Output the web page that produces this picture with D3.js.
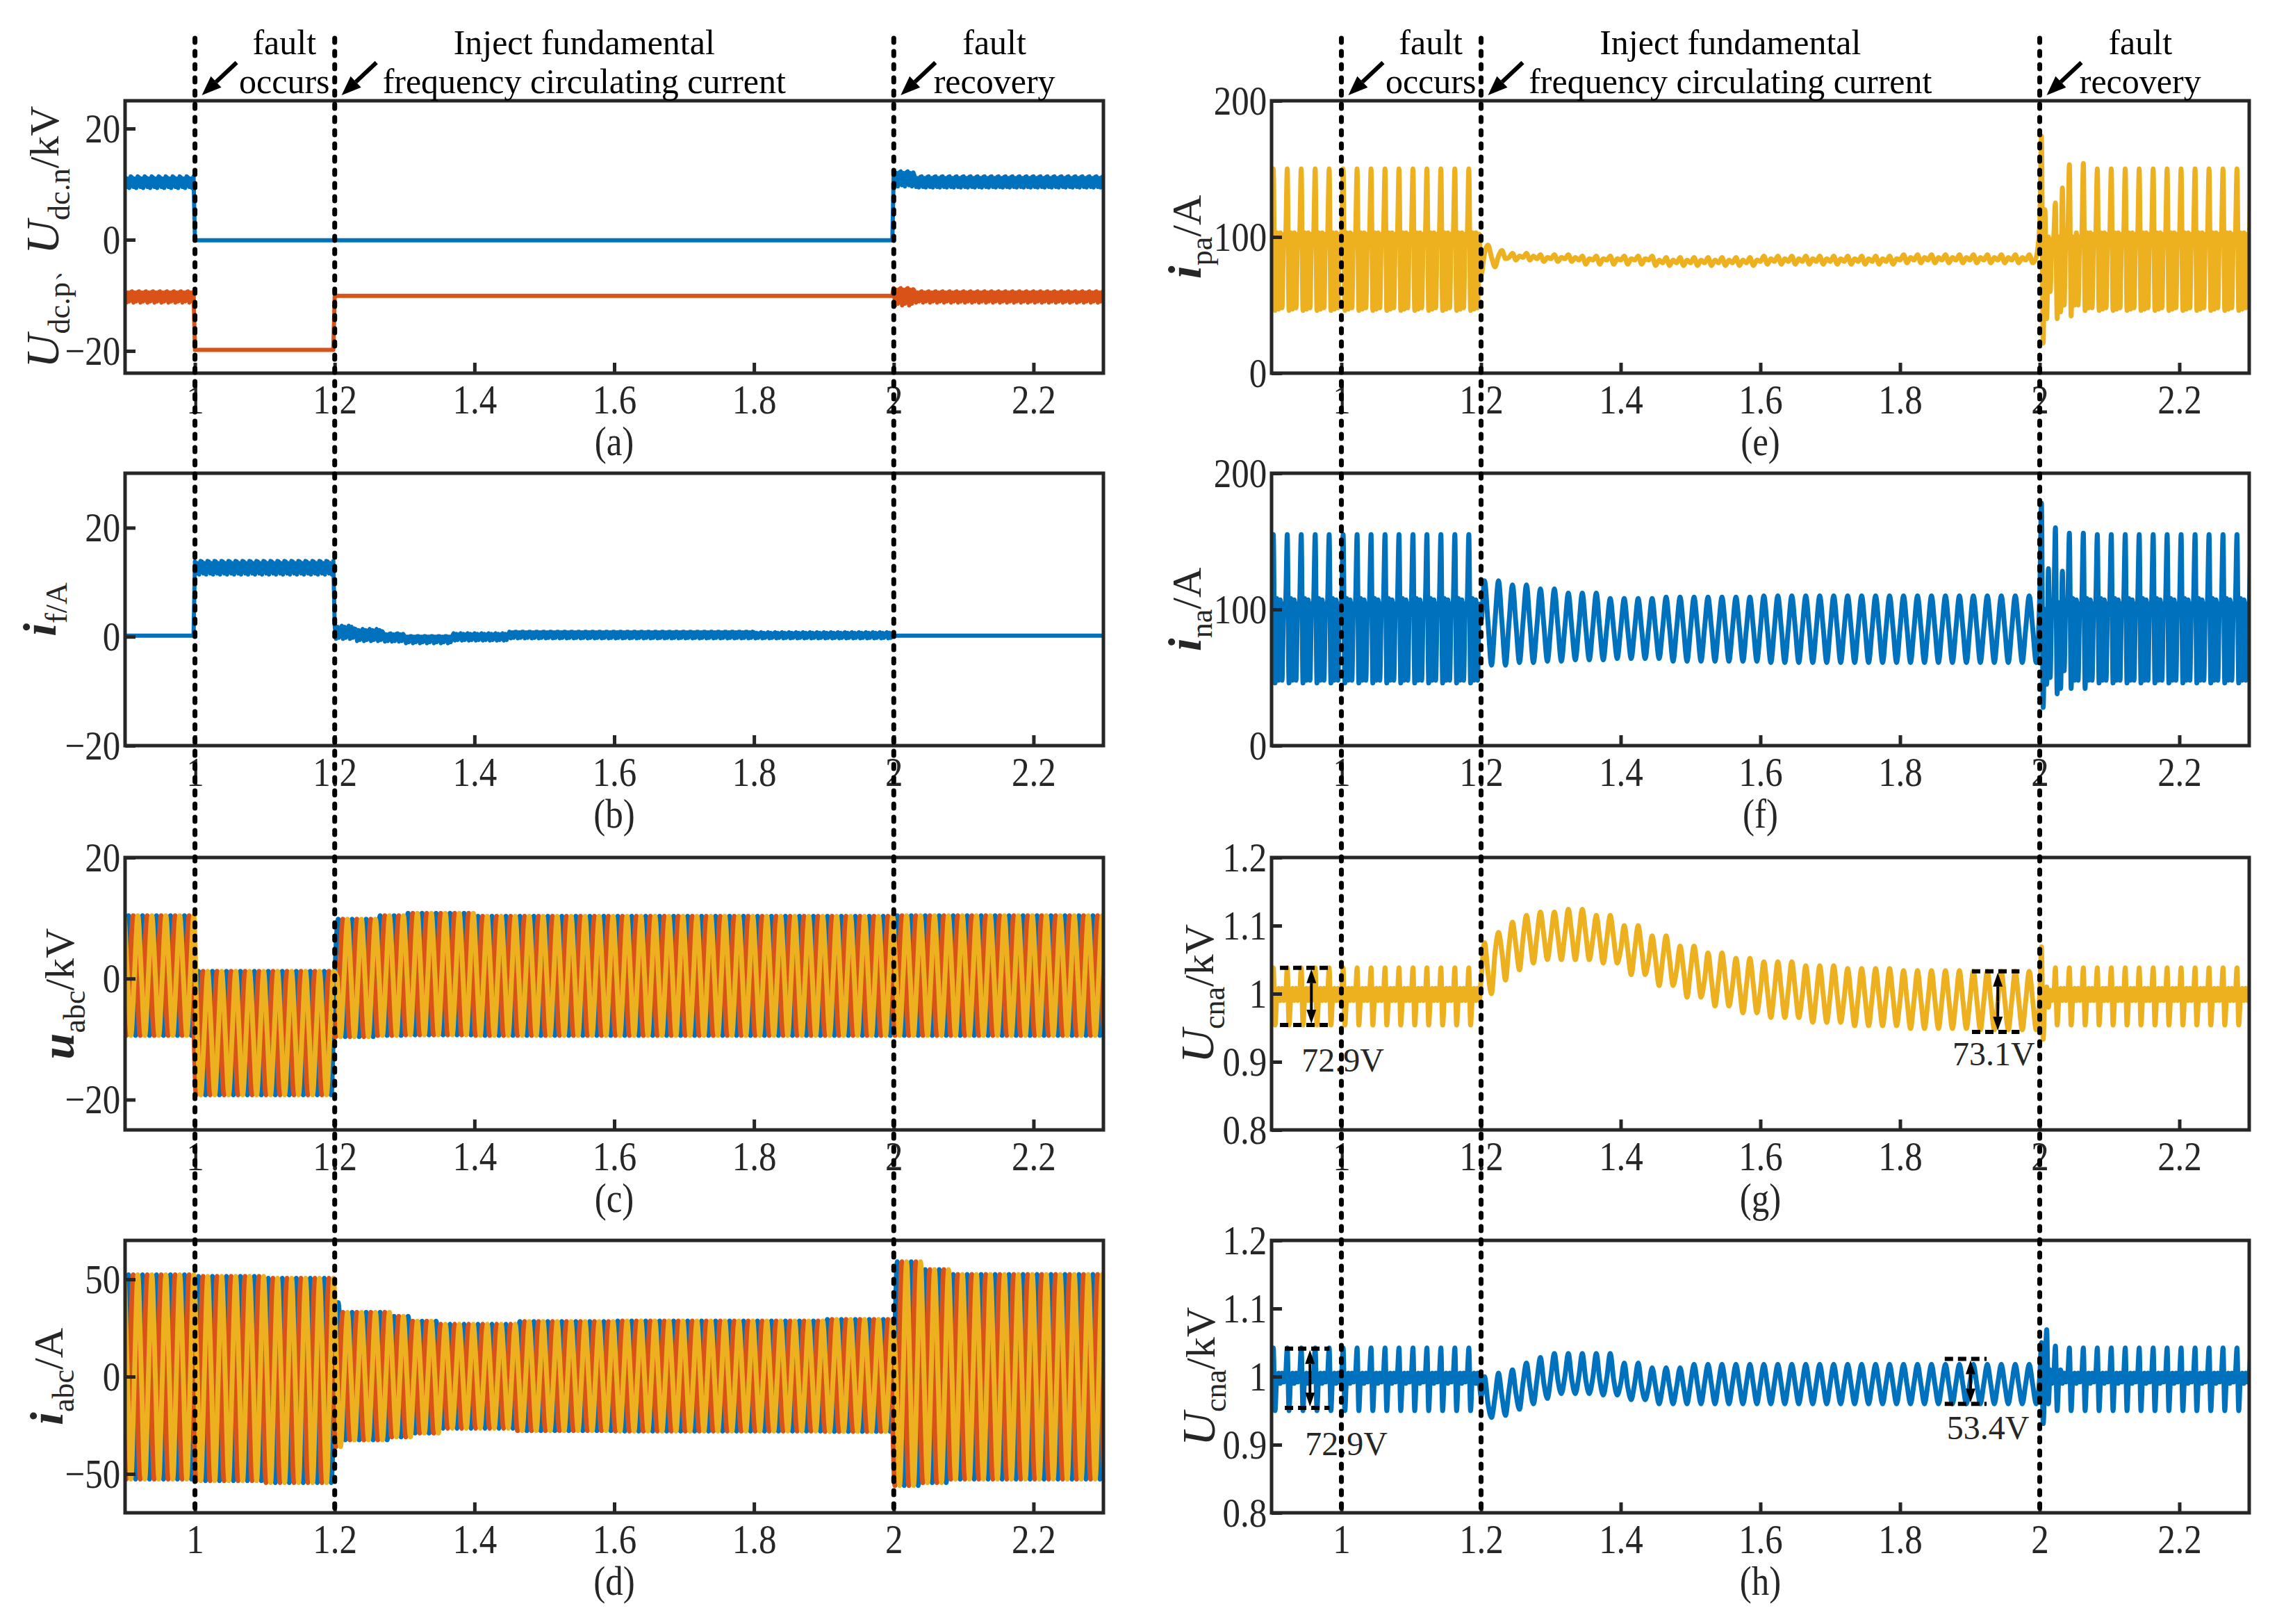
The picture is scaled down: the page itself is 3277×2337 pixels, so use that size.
<!DOCTYPE html>
<html>
<head>
<meta charset="utf-8">
<script src="https://cdn.jsdelivr.net/npm/d3@7"></script>
<style>
  body { margin: 0; background: #fff; }
</style>
</head>
<body>
<svg id="fig"></svg>
<script>
// ---------------- data ----------------
const T_DOMAIN = [0.9, 2.3];
const EVENT_TIMES = [1.0, 1.2, 2.0];
const X_TICKS = [1, 1.2, 1.4, 1.6, 1.8, 2, 2.2];
const X_TICK_LABELS = ["1", "1.2", "1.4", "1.6", "1.8", "2", "2.2"];
const PANEL_LETTERS = ["(a)", "(b)", "(c)", "(d)", "(e)", "(f)", "(g)", "(h)"];

const MAINS_PERIOD = 0.02;   // 50 Hz
const NOISE_PERIOD = 0.01;   // texture of the dc traces
const PHASE_SHIFTS = [0, 1 / 3, 2 / 3];

// each row: [time from which it holds, samples of one cycle]
const udcNRows = [
  [0.9, [11.2, 9.5, 11.0, 9.3, 11.4]],
  [1.0, [-0.1, -0.1, -0.1, -0.1, -0.1]],
  [2.0, [12.3, 9.8, 12.0, 9.6, 12.1]],
  [2.03, [11.4, 9.5, 11.1, 9.4, 11.3]]
];
const udcPRows = [
  [0.9, [-9.3, -11.3, -9.5, -11.1, -9.4]],
  [1.0, [-19.8, -19.8, -19.8, -19.8, -19.8]],
  [1.2, [-10.1, -10.1, -10.1, -10.1, -10.1]],
  [2.0, [-8.7, -11.8, -9.0, -11.5, -8.9]],
  [2.03, [-9.3, -11.3, -9.5, -11.1, -9.4]]
];
const ifRows = [
  [0.9, [0.2, 0.2, 0.2, 0.2, 0.2]],
  [1.0, [13.8, 11.6, 13.5, 11.4, 13.9]],
  [1.2, [2.0, -0.4, 1.8, -0.2, 1.5]],
  [1.23, [1.4, -0.8, 1.2, -0.6, 1.0]],
  [1.27, [0.6, -0.9, 0.4, -0.8, 0.5]],
  [1.3, [0.1, -1.2, 0.0, -1.0, 0.1]],
  [1.37, [0.6, -0.7, 0.5, -0.6, 0.4]],
  [1.45, [0.9, -0.3, 0.8, -0.2, 0.9]],
  [1.8, [0.8, -0.3, 0.7, -0.2, 0.6]],
  [2.0, [0.2, 0.2, 0.2, 0.2, 0.2]]
];
const uabcRows = [
  [0.9, [0.5, 10.4, 0.5, -9.4]],
  [1.0, [-9.0, 1.2, -9.0, -19.2]],
  [1.2, [0.2, 9.8, 0.2, -9.6]],
  [1.26, [0.6, 10.4, 0.6, -9.4]],
  [1.3, [0.8, 10.8, 0.8, -9.3]],
  [1.4, [0.5, 10.3, 0.5, -9.4]],
  [2.0, [0.5, 10.4, 0.5, -9.4]]
];
const iabcRows = [
  [0.9, [0, 52.3, 0, -52.7]],
  [1.0, [0, 51.5, 0, -53.5]],
  [1.1, [0, 50.5, 0, -54.5]],
  [1.2, [0, 38, 0, -36]],
  [1.21, [0, 33, 0, -32.5]],
  [1.28, [0, 31, 0, -31]],
  [1.31, [0, 28.5, 0, -29]],
  [1.35, [0, 27, 0, -26.6]],
  [1.46, [0, 28.3, 0, -27.8]],
  [1.6, [0, 28.6, 0, -28]],
  [1.9, [0, 29.4, 0, -28.2]],
  [2.0, [0, 59, 0, -56]],
  [2.04, [0, 55, 0, -54.5]],
  [2.08, [0, 52.5, 0, -52.7]]
];
const ipaRows = [
  [0.9, [100, 150, 46, 103, 47, 103, 48, 102]],
  [1.2, [72, 88, 94, 85]],
  [1.22, [78, 86, 90, 84]],
  [1.24, [85, 88, 83, 86]],
  [1.28, [84, 87, 82, 85]],
  [1.34, [83, 86, 80, 84]],
  [1.45, [81, 85, 79, 83]],
  [1.6, [82, 86, 80, 84]],
  [1.8, [83, 87, 81, 85]],
  [2.0, [110, 174, 22, 120, 40, 100, 60, 95]],
  [2.02, [100, 125, 40, 100, 45, 136, 50, 100]],
  [2.04, [100, 153, 42, 100, 50, 103, 50, 100]],
  [2.06, [100, 154, 46, 103, 48, 103, 48, 102]],
  [2.08, [100, 150, 46, 103, 47, 103, 48, 102]]
];
const inaRows = [
  [0.9, [105, 155, 46, 108, 48, 107, 48, 104]],
  [1.2, [92, 121, 90, 59]],
  [1.24, [90, 118, 89, 61]],
  [1.28, [88, 115, 88, 62]],
  [1.32, [87, 112, 86, 63]],
  [1.38, [86, 108, 85, 64]],
  [1.46, [86, 109, 86, 62]],
  [1.6, [86, 110, 86, 61]],
  [2.0, [110, 178, 28, 100, 45, 130, 50, 104]],
  [2.02, [105, 160, 38, 105, 42, 128, 55, 104]],
  [2.04, [105, 156, 42, 108, 48, 107, 48, 104]],
  [2.08, [105, 155, 46, 108, 48, 107, 48, 104]]
];
const ucnaGRows = [
  [0.9, [0.995, 1.038, 0.954, 0.995, 1.008, 0.99, 1.008, 0.99]],
  [1.2, [1.02, 1.075, 1.03, 1.0]],
  [1.22, [1.06, 1.09, 1.06, 1.02]],
  [1.24, [1.07, 1.105, 1.07, 1.035]],
  [1.26, [1.08, 1.115, 1.08, 1.045]],
  [1.28, [1.085, 1.12, 1.085, 1.05]],
  [1.32, [1.087, 1.124, 1.087, 1.05]],
  [1.36, [1.08, 1.115, 1.08, 1.045]],
  [1.4, [1.065, 1.1, 1.065, 1.028]],
  [1.44, [1.05, 1.085, 1.05, 1.012]],
  [1.48, [1.035, 1.07, 1.035, 0.995]],
  [1.52, [1.02, 1.06, 1.02, 0.982]],
  [1.56, [1.012, 1.052, 1.012, 0.972]],
  [1.6, [1.005, 1.047, 1.005, 0.965]],
  [1.66, [0.998, 1.041, 0.998, 0.958]],
  [1.72, [0.994, 1.037, 0.994, 0.953]],
  [1.8, [0.99, 1.034, 0.99, 0.949]],
  [1.9, [0.99, 1.033, 0.99, 0.947]],
  [2.0, [1.0, 1.069, 0.933, 1.0, 1.01, 0.98, 1.005, 0.99]],
  [2.02, [0.995, 1.038, 0.954, 0.995, 1.008, 0.99, 1.008, 0.99]]
];
const ucnaHRows = [
  [0.9, [1.0, 1.042, 0.95, 1.0, 1.005, 0.99, 1.005, 0.992]],
  [1.2, [0.97, 1.0, 0.96, 0.94]],
  [1.22, [0.97, 1.005, 0.97, 0.943]],
  [1.24, [0.98, 1.01, 0.975, 0.952]],
  [1.26, [0.99, 1.02, 0.985, 0.96]],
  [1.28, [0.995, 1.028, 0.99, 0.968]],
  [1.3, [1.0, 1.034, 0.995, 0.975]],
  [1.36, [0.998, 1.034, 0.995, 0.973]],
  [1.4, [0.99, 1.02, 0.985, 0.966]],
  [1.44, [0.985, 1.013, 0.985, 0.96]],
  [1.5, [0.99, 1.018, 0.988, 0.96]],
  [2.0, [1.0, 1.05, 0.931, 1.0, 1.069, 0.96, 1.01, 0.99]],
  [2.02, [1.0, 1.045, 0.95, 1.0, 1.01, 0.99, 1.005, 0.992]],
  [2.04, [1.0, 1.042, 0.95, 1.0, 1.005, 0.99, 1.005, 0.992]]
];

// y axes
const Y_DOMAINS = [[-24, 25], [-20, 30], [-25, 20], [-70, 70], [0, 200], [0, 200], [0.8, 1.2], [0.8, 1.2]];
const Y_TICKS = [[-20, 0, 20], [-20, 0, 20], [-20, 0, 20], [-50, 0, 50], [0, 100, 200], [0, 100, 200],
  [0.8, 0.9, 1, 1.1, 1.2], [0.8, 0.9, 1, 1.1, 1.2]];
const Y_TICK_LABELS = [["\u221220", "0", "20"], ["\u221220", "0", "20"], ["\u221220", "0", "20"], ["\u221250", "0", "50"],
  ["0", "100", "200"], ["0", "100", "200"], ["0.8", "0.9", "1", "1.1", "1.2"], ["0.8", "0.9", "1", "1.1", "1.2"]];
const Y_LABELS = [
  [["U", "main"], ["dc.p", "sub"], ["\u3001", "sep"], ["U", "main"], ["dc.n", "sub"], ["/kV", "unit"]],
  [["i", "mainb"], ["f/A", "sub"]],
  [["u", "mainb"], ["abc", "sub"], ["/kV", "unit"]],
  [["i", "mainb"], ["abc", "sub"], ["/A", "unit"]],
  [["i", "mainb"], ["pa", "sub"], ["/A", "unit"]],
  [["i", "mainb"], ["na", "sub"], ["/A", "unit"]],
  [["U", "main"], ["cna", "sub"], ["/kV", "unit"]],
  [["U", "main"], ["cna", "sub"], ["/kV", "unit"]]
];

// top notes: [time of centre, first line, second line]
const NOTES = [[1.128, "fault", "occurs"], [1.557, "Inject fundamental", "frequency circulating current"], [2.144, "fault", "recovery"]];

// peak-to-peak marks: [t0, t1, top, bottom, arrow t, text, text t, text baseline]
const G_MARKS = [[0.912, 0.982, 1.038, 0.954, 0.957, "72.9V", 0.943, 0.886],
  [1.903, 1.971, 1.033, 0.944, 1.94, "73.1V", 1.875, 0.895]];
const H_MARKS = [[0.919, 0.983, 1.041, 0.954, 0.955, "72.9V", 0.948, 0.885],
  [1.864, 1.924, 1.026, 0.96, 1.901, "53.4V", 1.867, 0.908]];

// ---------------- layout ----------------
const W = 3277, H = 2337;
const COLS = [{x0: 180, x1: 1588}, {x0: 1830, x1: 3237}];
const ROWS = [{y0: 145, y1: 537}, {y0: 681, y1: 1073}, {y0: 1234, y1: 1626}, {y0: 1785, y1: 2177}];
const LABEL_X = [84, 80, 106, 90, 1728, 1728, 1746, 1748];
const BLUE = "#0072BD", RED = "#D95319", YELLOW = "#EDB120";
const INK = "#262626";
const SERIF = "'Liberation Serif', 'Times New Roman', serif";

const lin = d3.curveLinear, smooth = d3.curveMonotoneX;
const SERIES = [
  [{rows: udcNRows, period: NOISE_PERIOD, shift: 0, color: BLUE, curve: lin},
   {rows: udcPRows, period: NOISE_PERIOD, shift: 0, color: RED, curve: lin}],
  [{rows: ifRows, period: NOISE_PERIOD, shift: 0, color: BLUE, curve: lin}],
  [BLUE, RED, YELLOW].map((c, k) => ({rows: uabcRows, period: MAINS_PERIOD, shift: PHASE_SHIFTS[k], color: c, curve: smooth})),
  [BLUE, RED, YELLOW].map((c, k) => ({rows: iabcRows, period: MAINS_PERIOD, shift: PHASE_SHIFTS[k], color: c, curve: smooth})),
  [{rows: ipaRows, period: MAINS_PERIOD, shift: 0, color: YELLOW, curve: smooth}],
  [{rows: inaRows, period: MAINS_PERIOD, shift: 0, color: BLUE, curve: smooth}],
  [{rows: ucnaGRows, period: MAINS_PERIOD, shift: 0, color: YELLOW, curve: smooth}],
  [{rows: ucnaHRows, period: MAINS_PERIOD, shift: 0, color: BLUE, curve: smooth}]
];

// ---------------- helpers ----------------
function rowAt(rows, t) {
  let r = rows[0];
  for (const row of rows) if (row[0] <= t + 1e-9) r = row;
  return r;
}

// repeat each read cycle until the next row takes over
function trace(rows, period, shift) {
  const pts = [];
  const t0 = T_DOMAIN[0] - period, t1 = T_DOMAIN[1] + period;
  for (let k = 0; ; k++) {
    const tc = t0 + (k + shift) * period;
    if (tc > t1) break;
    const n = rowAt(rows, tc)[1].length;
    for (let j = 0; j < n; j++) {
      const t = tc + j * period / n;
      const s = rowAt(rows, t)[1];
      pts.push([t, s[j % s.length]]);
    }
  }
  return pts;
}

function arrow(g, x1, y1, x2, y2, width, headLen, headW) {
  const dx = x2 - x1, dy = y2 - y1, len = Math.hypot(dx, dy);
  const ux = dx / len, uy = dy / len;
  const bx = x2 - ux * headLen, by = y2 - uy * headLen;
  g.append("line").attr("x1", x1).attr("y1", y1).attr("x2", bx).attr("y2", by)
    .attr("stroke", "#000").attr("stroke-width", width);
  g.append("path")
    .attr("d", `M${x2},${y2}L${bx - uy * headW / 2},${by + ux * headW / 2}L${bx + uy * headW / 2},${by - ux * headW / 2}Z`)
    .attr("fill", "#000");
}

// ---------------- drawing ----------------
const svg = d3.select("#fig").attr("width", W).attr("height", H).attr("viewBox", `0 0 ${W} ${H}`);
svg.append("rect").attr("width", W).attr("height", H).attr("fill", "#fff");

const xScales = COLS.map(c => d3.scaleLinear().domain(T_DOMAIN).range([c.x0, c.x1]));

SERIES.forEach((series, i) => {
  const col = i < 4 ? 0 : 1, c = COLS[col], r = ROWS[i % 4];
  const x = xScales[col];
  const y = d3.scaleLinear().domain(Y_DOMAINS[i]).range([r.y1, r.y0]);
  const g = svg.append("g");

  svg.append("clipPath").attr("id", "clip" + i).append("rect")
    .attr("x", c.x0).attr("y", r.y0).attr("width", c.x1 - c.x0).attr("height", r.y1 - r.y0);
  const plot = g.append("g").attr("clip-path", `url(#clip${i})`);

  series.forEach(s => {
    const line = d3.line().x(d => x(d[0])).y(d => y(d[1])).curve(s.curve);
    plot.append("path").datum(trace(s.rows, s.period, s.shift))
      .attr("d", line).attr("fill", "none").attr("stroke", s.color)
      .attr("stroke-width", s.curve === lin ? 6 : 7).attr("stroke-linejoin", "round");
  });

  // peak-to-peak marks
  const marks = i === 6 ? G_MARKS : i === 7 ? H_MARKS : [];
  marks.forEach(m => {
    [m[2], m[3]].forEach(v => {
      g.append("line").attr("x1", x(m[0])).attr("x2", x(m[1])).attr("y1", y(v)).attr("y2", y(v))
        .attr("stroke", "#000").attr("stroke-width", 6).attr("stroke-dasharray", "12,7");
    });
    const ax = x(m[4]);
    arrow(g, ax, (y(m[2]) + y(m[3])) / 2, ax, y(m[2]) + 2, 4, 20, 14);
    arrow(g, ax, (y(m[2]) + y(m[3])) / 2, ax, y(m[3]) - 2, 4, 20, 14);
    g.append("text").attr("x", x(m[6])).attr("y", y(m[7])).text(m[5])
      .attr("font-family", SERIF).attr("font-size", 48).attr("fill", INK);
  });

  // frame
  g.append("rect").attr("x", c.x0).attr("y", r.y0).attr("width", c.x1 - c.x0).attr("height", r.y1 - r.y0)
    .attr("fill", "none").attr("stroke", INK).attr("stroke-width", 5);

  // axes
  const xAxis = d3.axisBottom(x).tickValues(X_TICKS).tickFormat((d, k) => X_TICK_LABELS[k])
    .tickSizeInner(-15).tickSizeOuter(0).tickPadding(15);
  const gx = g.append("g").attr("transform", `translate(0,${r.y1})`).call(xAxis);
  const yAxis = d3.axisLeft(y).tickValues(Y_TICKS[i]).tickFormat((d, k) => Y_TICK_LABELS[i][k])
    .tickSizeInner(-15).tickSizeOuter(0).tickPadding(8);
  const gy = g.append("g").attr("transform", `translate(${c.x0},0)`).call(yAxis);
  [gx, gy].forEach(a => {
    a.select(".domain").remove();
    a.selectAll("line").attr("stroke", INK).attr("stroke-width", 5);
    a.selectAll("text").attr("font-family", SERIF).attr("font-size", 60).attr("fill", INK)
      .attr("transform", "scale(0.85,1)");
  });

  // panel letter
  g.append("text").attr("transform", `translate(${(c.x0 + c.x1) / 2},${r.y1 + 118}) scale(0.85,1)`)
    .attr("text-anchor", "middle").attr("font-family", SERIF).attr("font-size", 60).attr("fill", INK)
    .text(PANEL_LETTERS[i]);

  // y label
  const lab = g.append("text")
    .attr("transform", `translate(${LABEL_X[i]},${(r.y0 + r.y1) / 2}) rotate(-90)`)
    .attr("text-anchor", "middle").attr("font-family", SERIF).attr("fill", INK);
  let off = 0;
  Y_LABELS[i].forEach(([txt, kind]) => {
    const ts = lab.append("tspan").text(txt);
    const target = kind === "sub" ? 16 : 0;
    ts.attr("dy", target - off);
    off = target;
    if (kind === "main") ts.attr("font-style", "italic").attr("font-size", 68);
    else if (kind === "mainb") ts.attr("font-style", "italic").attr("font-weight", "bold").attr("font-size", 68);
    else if (kind === "sub") ts.attr("font-size", 44);
    else if (kind === "sep") ts.attr("font-size", 40);
    else ts.attr("font-size", 60);
  });
});

// event lines, arrows and notes over both columns
xScales.forEach(x => {
  const g = svg.append("g");
  EVENT_TIMES.forEach(t => {
    g.append("line").attr("x1", x(t)).attr("x2", x(t)).attr("y1", 55).attr("y2", 2182)
      .attr("stroke", "#000").attr("stroke-width", 7).attr("stroke-linecap", "round")
      .attr("stroke-dasharray", "6,13");
    arrow(g, x(t) + 60, 90, x(t) + 10, 137, 6, 28, 22);
  });
  NOTES.forEach(([t, l1, l2]) => {
    g.append("text").attr("x", x(t)).attr("y", 78).attr("text-anchor", "middle")
      .attr("font-family", SERIF).attr("font-size", 50).attr("fill", "#000").text(l1);
    g.append("text").attr("x", x(t)).attr("y", 134).attr("text-anchor", "middle")
      .attr("font-family", SERIF).attr("font-size", 50).attr("fill", "#000").text(l2);
  });
});
</script>
</body>
</html>
